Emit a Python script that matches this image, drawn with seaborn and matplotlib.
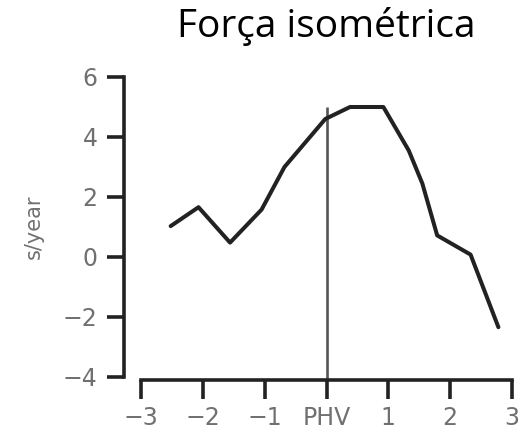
import matplotlib
matplotlib.use("Agg")
import matplotlib.pyplot as plt
import seaborn as sns
import pandas as pd

# Years relative to peak height velocity and the isometric strength gain rate
years = [-2.52, -2.07, -1.56, -1.05, -0.68, -0.02, 0.38, 0.92, 1.33, 1.55, 1.79, 2.33, 2.78]
rate = [1.03, 1.66, 0.48, 1.58, 3.0, 4.6, 5.0, 5.0, 3.55, 2.45, 0.72, 0.08, -2.34]

x_ticks = [-3, -2, -1, 0, 1, 2, 3]
x_tick_labels = ["\u22123", "\u22122", "\u22121", "PHV", "1", "2", "3"]
y_ticks = [-4, -2, 0, 2, 4, 6]
y_tick_labels = ["\u22124", "\u22122", "0", "2", "4", "6"]
phv_top = 5.0

title = "Força isométrica"
y_label = "s/year"

sns.set_style("ticks")
plt.rcParams["font.family"] = ["DejaVu Sans"]

W, H = 523, 441
fig = plt.figure(figsize=(W / 100, H / 100), dpi=100)
ax = fig.add_axes([141 / W, 1 - 377 / H, (512 - 141) / W, (377 - 77) / H])

df = pd.DataFrame({"years": years, "rate": rate})
sns.lineplot(data=df, x="years", y="rate", ax=ax, sort=False, estimator=None,
             color="#222222", linewidth=2.9, solid_joinstyle="round",
             solid_capstyle="round")

ax.vlines(0, -4.1, phv_top, color="#555555", linewidth=1.9, clip_on=False, zorder=1)

ax.set_xlim(-3, 3)
ax.set_ylim(-4, 6)
ax.set_xticks(x_ticks)
ax.set_xticklabels(x_tick_labels)
ax.set_yticks(y_ticks)
ax.set_yticklabels(y_tick_labels)
ax.set_xlabel("")
ax.set_ylabel(y_label, fontsize=15, color="#707070", labelpad=14)

for side in ("top", "right"):
    ax.spines[side].set_visible(False)
ax.spines["left"].set_position(("outward", 12.2))
ax.spines["bottom"].set_position(("outward", 2.2))
for side in ("left", "bottom"):
    ax.spines[side].set_color("#222222")
    ax.spines[side].set_linewidth(2.6)
ax.spines["left"].set_bounds(-4, 6)
ax.spines["bottom"].set_bounds(-3, 3)

ax.tick_params(axis="y", length=12, width=2.6, color="#222222", pad=7,
               labelsize=17, labelcolor="#707070")
ax.tick_params(axis="x", length=14, width=2.6, color="#222222", pad=5,
               labelsize=17, labelcolor="#707070")

fig.text(326 / W, 1 - 27 / H, title, ha="center", va="center",
         fontsize=28, color="black", family=["Open Sans", "DejaVu Sans"])

fig.savefig("out.png", dpi=100)
